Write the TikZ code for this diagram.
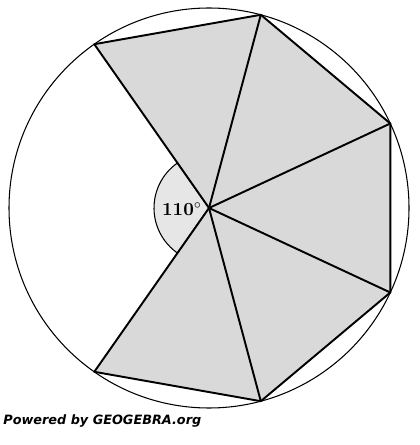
\documentclass[tikz,border=0pt]{standalone}
\usepackage{fontspec}
\newfontfamily\ggfont{DejaVu Sans}
\definecolor{sectgray}{HTML}{D9D9D9}
\definecolor{anglegray}{HTML}{E6E6E6}
\begin{document}
\begin{tikzpicture}[x=0.02cm,y=-0.02cm,
  edge/.style={line width=1.1pt,line join=round},
  sect/.style={fill=sectgray},
  ring/.style={line width=0.6pt}]
\useasboundingbox (0,0) rectangle (419,445);
\coordinate (O) at (209,208);
\coordinate (P1) at (94.3,44.2);
\coordinate (P2) at (260.8,14.8);
\coordinate (P3) at (390.3,123.5);
\coordinate (P4) at (390.3,292.5);
\coordinate (P5) at (260.8,401.2);
\coordinate (P6) at (94.3,371.8);
\fill[sectgray] (O) -- (P1) -- (P2) -- (P3) -- (P4) -- (P5) -- (P6) -- cycle;
\filldraw[fill=anglegray,line width=0.6pt] (O) -- ++(-125:55) arc[start angle=-125,end angle=-235,radius=55] -- cycle;
\draw[ring] (O) circle[radius=200];
\draw[edge] (O) -- (P1) -- (P2) -- (P3) -- (P4) -- (P5) -- (P6) -- cycle;
\foreach \i in {2,...,5} \draw[edge] (O) -- (P\i);
\node[font=\bfseries\fontsize{10.5}{12}\selectfont] (lab) at (182,209) {110$^\circ$};
\node[anchor=west,inner sep=0pt,font=\ggfont\bfseries\itshape\fontsize{7.3}{8}\selectfont] (gg) at (3,421) {Powered by GEOGEBRA.org};
\end{tikzpicture}
\end{document}
